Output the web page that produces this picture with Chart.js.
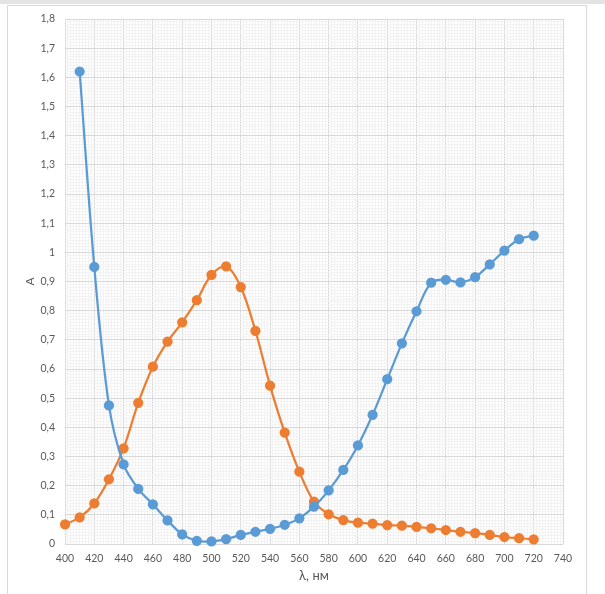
<!DOCTYPE html>
<html>
<head>
<meta charset="utf-8">
<script src="https://cdn.jsdelivr.net/npm/chart.js@4.4.1/dist/chart.umd.min.js"></script>
<style>
  body { margin: 0; background: #ffffff; }
  #topbar { position: absolute; left: 0; top: 0; width: 605px; height: 4px; background: #e4e4e4; }
  #frame { position: absolute; left: 7px; top: 5px; width: 578px; height: 600px; border: 1px solid #d9d9d9; background: #fff; }
  #wrap { position: absolute; left: 0; top: 0; width: 605px; height: 594px; }
</style>
</head>
<body>
<div id="topbar"></div>
<div id="frame"></div>
<div id="wrap"><canvas id="specChart" width="605" height="594"></canvas></div>
<script>
// wavelengths, nm
const wavelengthsBlue = [410, 420, 430, 440, 450, 460, 470, 480, 490, 500, 510, 520, 530, 540, 550, 560, 570,
  580, 590, 600, 610, 620, 630, 640, 650, 660, 670, 680, 690, 700, 710, 720];
const absorbBlue = [1.62, 0.95, 0.475, 0.273, 0.189, 0.136, 0.081, 0.033, 0.011, 0.009, 0.017, 0.031, 0.042,
  0.052, 0.066, 0.088, 0.128, 0.184, 0.254, 0.338, 0.443, 0.565, 0.688, 0.798, 0.896, 0.906, 0.897, 0.915,
  0.959, 1.006, 1.045, 1.057];

const wavelengthsOrange = [400, 410, 420, 430, 440, 450, 460, 470, 480, 490, 500, 510, 520, 530, 540, 550, 560,
  570, 580, 590, 600, 610, 620, 630, 640, 650, 660, 670, 680, 690, 700, 710, 720];
const absorbOrange = [0.067, 0.091, 0.139, 0.222, 0.328, 0.484, 0.608, 0.694, 0.76, 0.836, 0.923, 0.952, 0.881,
  0.731, 0.543, 0.382, 0.248, 0.145, 0.102, 0.082, 0.073, 0.07, 0.065, 0.063, 0.059, 0.054, 0.048, 0.042,
  0.037, 0.031, 0.024, 0.02, 0.016];

const xMin = 400, xMax = 740, xMajor = 20;
const yMin = 0, yMax = 1.8, yMajor = 0.1;

function toPoints(xs, ys) {
  return xs.map(function(x, i) { return {x: x, y: ys[i]}; });
}

const tickFont = {family: 'Lato', size: 10.5};
const gridMajor = '#d9d9d9';
const gridMinor = '#f3f3f3';

function isMajorX(v) { return Math.round(v) % xMajor === 0; }
function isMajorY(v) { return Math.round(v * 100) % 10 === 0; }

const ctx = document.getElementById('specChart').getContext('2d');
const chart = new Chart(ctx, {
  type: 'line',
  data: {
    datasets: [
      {
        data: toPoints(wavelengthsBlue, absorbBlue),
        borderColor: '#5b9bd5',
        backgroundColor: '#5b9bd5',
        borderWidth: 2.25,
        pointRadius: 4,
        pointHoverRadius: 4,
        tension: 0.34,
        clip: false
      },
      {
        data: toPoints(wavelengthsOrange, absorbOrange),
        borderColor: '#ed7d31',
        backgroundColor: '#ed7d31',
        borderWidth: 2.25,
        pointRadius: 4,
        pointHoverRadius: 4,
        tension: 0.34,
        clip: false
      }
    ]
  },
  options: {
    responsive: false,
    animation: false,
    layout: { padding: { left: 0, top: 19, right: 42, bottom: 0 } },
    plugins: { legend: { display: false }, tooltip: { enabled: false } },
    scales: {
      x: {
        type: 'linear',
        min: xMin,
        max: xMax,
        border: { display: false },
        grid: {
          drawTicks: false,
          color: function(c) { return isMajorX(c.tick.value) ? gridMajor : gridMinor; },
          lineWidth: 1
        },
        ticks: {
          stepSize: 2,
          maxTicksLimit: 1000,
          autoSkip: false,
          maxRotation: 0,
          padding: 8,
          color: '#595959',
          font: tickFont,
          callback: function(v) { return isMajorX(v) ? String(Math.round(v)) : ''; }
        },
        title: {
          display: true,
          text: 'λ, нм',
          color: '#595959',
          font: {family: 'Lato', size: 13},
          padding: { top: 0, bottom: 10 }
        },
        afterFit: function(scale) { scale.height = 50; }
      },
      y: {
        type: 'linear',
        min: yMin,
        max: yMax,
        border: { display: false },
        grid: {
          drawTicks: false,
          color: function(c) { return isMajorY(c.tick.value) ? gridMajor : gridMinor; },
          lineWidth: 1
        },
        ticks: {
          stepSize: 0.01,
          maxTicksLimit: 1000,
          autoSkip: false,
          padding: 10,
          color: '#595959',
          font: tickFont,
          callback: function(v) {
            if (!isMajorY(v)) return '';
            return (Math.round(v * 10) / 10).toString().replace('.', ',');
          }
        },
        title: {
          display: true,
          text: 'A',
          color: '#595959',
          font: {family: 'Lato', size: 12},
          padding: { top: 23, bottom: 0 }
        },
        afterFit: function(scale) { scale.width = 65; }
      }
    }
  }
});
</script>
</body>
</html>
